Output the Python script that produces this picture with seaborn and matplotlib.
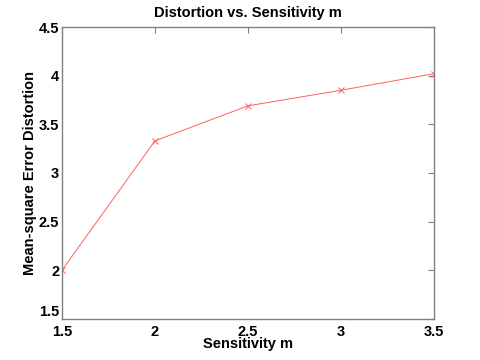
import matplotlib
matplotlib.use("Agg")
import matplotlib.pyplot as plt
import seaborn as sns
import pandas as pd

# values
sensitivity = [1.5, 2.0, 2.5, 3.0, 3.5]
distortion = [2.00, 3.33, 3.69, 3.85, 4.02]
x_ticks = [1.5, 2, 2.5, 3, 3.5]
y_ticks = [1.5, 2, 2.5, 3, 3.5, 4, 4.5]

df = pd.DataFrame({"m": sensitivity, "mse": distortion})

sns.set_style("white")
plt.rcParams["font.family"] = ["Liberation Sans", "DejaVu Sans"]
plt.rcParams["text.color"] = "black"
plt.rcParams["axes.labelcolor"] = "black"

fig = plt.figure(figsize=(4.8, 3.6), dpi=100)
ax = fig.add_axes([0.129, 0.114, 0.775, 0.811])

sns.lineplot(data=df, x="m", y="mse", ax=ax, color="#ff6060", linewidth=0.7,
             marker="x", markersize=4, markeredgecolor="#ff6060", markeredgewidth=0.7)

ax.set_xlim(1.5, 3.5)
ax.set_ylim(1.5, 4.5)
ax.set_xticks(x_ticks)
ax.set_xticklabels([f"{t:g}" for t in x_ticks])
ax.set_yticks(y_ticks)
ax.set_yticklabels([f"{t:g}" for t in y_ticks])

for s in ax.spines.values():
    s.set_color("#808080")
    s.set_linewidth(1.0)
ax.tick_params(direction="in", length=4, color="#808080", top=True, right=True,
               labelsize=10.5, labelcolor="black")
ax.tick_params(axis="x", pad=4)
ax.tick_params(axis="y", pad=2)
for lab in ax.get_xticklabels() + ax.get_yticklabels():
    lab.set_fontweight("bold")
# lift the lowest y label a touch so it clears the first x label
ax.get_yticklabels()[0].set_verticalalignment("bottom")

ax.set_title("Distortion vs. Sensitivity m", fontsize=10.5, fontweight="bold", pad=7)
ax.set_xlabel("Sensitivity m", fontsize=10.5, fontweight="bold", labelpad=-1)
ax.set_ylabel("Mean-square Error Distortion", fontsize=10.5, fontweight="bold", labelpad=1)

fig.savefig("out.png", dpi=100, facecolor="white")
